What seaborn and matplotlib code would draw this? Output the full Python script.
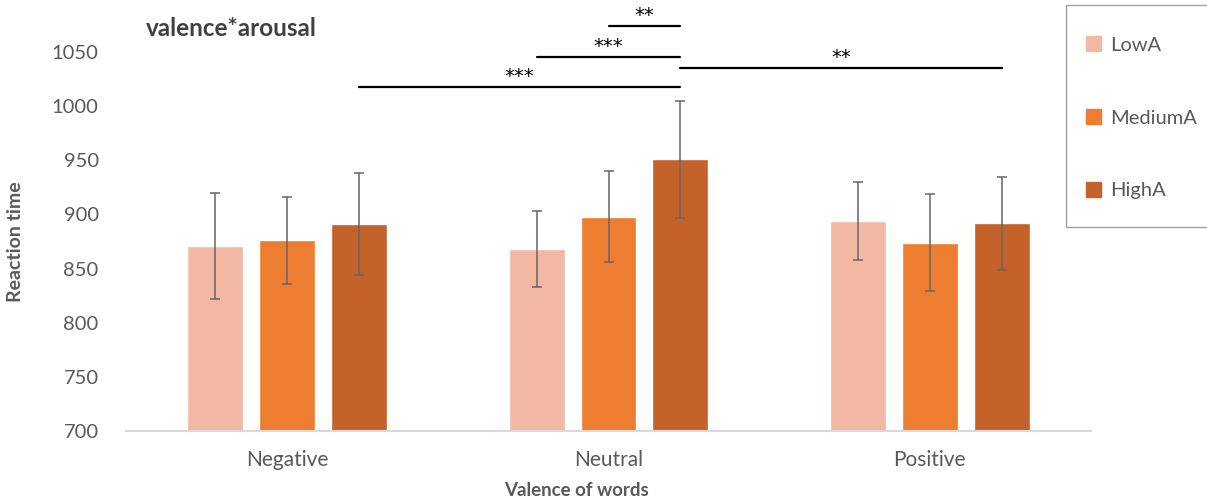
import seaborn as sns
import pandas as pd
import matplotlib.pyplot as plt

# Values
valence = ['Negative', 'Neutral', 'Positive']
arousal = ['LowA', 'MediumA', 'HighA']
low_rt = [871, 868, 894]
medium_rt = [876, 898, 874]
high_rt = [891, 951, 892]
low_err = [49, 35, 36]
medium_err = [40, 42, 45]
high_err = [47, 54, 43]

# significance brackets: (valence a, arousal a, valence b, arousal b, height, label)
sig_pairs = [
    (0, 2, 1, 2, 1018, '***'),
    (1, 0, 1, 2, 1045, '***'),
    (1, 1, 1, 2, 1074, '**'),
    (1, 2, 2, 2, 1035, '**'),
]

colors = ['#F3B8A3', '#ED7D31', '#C4622A']
grey = '#595959'

df = pd.DataFrame({
    'valence': valence * 3,
    'arousal': [a for a in arousal for _ in valence],
    'rt': low_rt + medium_rt + high_rt,
})
errs = {'LowA': low_err, 'MediumA': medium_err, 'HighA': high_err}

sns.set_theme(style='white')
plt.rcParams['font.family'] = ['Lato', 'DejaVu Sans']

fig = plt.figure(figsize=(12.07, 5), dpi=100)
ax = fig.add_axes([0.1048, 0.138, 0.7987, 0.758])

sns.barplot(data=df, x='valence', y='rt', hue='arousal', hue_order=arousal,
            palette=colors, width=0.67, gap=0.22, errorbar=None,
            saturation=1, ax=ax, legend=False)

# error bars and bar centres
centers = {}
for hi, (name, cont) in enumerate(zip(arousal, ax.containers)):
    xs = [b.get_x() + b.get_width() / 2 for b in cont]
    ys = [b.get_height() + b.get_y() for b in cont]
    ax.errorbar(xs, ys, yerr=errs[name], fmt='none', ecolor='#666666',
                elinewidth=1.1, capsize=3.6, capthick=1.1)
    for vi, x in enumerate(xs):
        centers[(vi, hi)] = x

ax.set_ylim(700, 1050)
ax.set_xlim(-0.5, 2.5)
ax.set_yticks(range(700, 1051, 50))
ax.tick_params(axis='both', length=0, labelcolor=grey)
ax.tick_params(axis='x', pad=14, labelsize=15)
ax.tick_params(axis='y', pad=20, labelsize=14.5)
for s in ['top', 'right', 'left']:
    ax.spines[s].set_visible(False)
ax.spines['bottom'].set_color('#D9D9D9')
ax.spines['bottom'].set_linewidth(1.5)

ax.set_xlabel('Valence of words', fontsize=13.5, fontweight='bold', color=grey)
ax.xaxis.set_label_coords(0.467, -0.135)
ax.set_ylabel('Reaction time', fontsize=14, fontweight='bold', color=grey, labelpad=20)

for va, ha, vb, hb, h, lab in sig_pairs:
    x1 = centers[(va, ha)]
    x2 = centers[(vb, hb)]
    ax.plot([x1, x2], [h, h], color='black', lw=1.6, clip_on=False)
    ax.text((x1 + x2) / 2, h + 1, lab, ha='center', va='bottom',
            fontsize=14, color='black', clip_on=False, family='DejaVu Sans')

fig.text(0.192, 0.944, 'valence*arousal', fontsize=17.5, fontweight='bold',
         color='#404040', ha='center', va='center')

# legend box, running off the right edge like in the original
fig.patches.append(plt.Rectangle((0.883, 0.546), 0.2, 0.444, transform=fig.transFigure,
                                 facecolor='white', edgecolor='#A0A0A0', lw=1.0))
handles = [plt.Rectangle((0, 0), 1, 1, color=c) for c in colors]
leg = fig.legend(handles, arousal, loc='upper left', bbox_to_anchor=(0.9, 0.927),
                 frameon=False, fontsize=14.5, labelspacing=2.75, handlelength=0.75,
                 handleheight=0.75, handletextpad=0.45, borderpad=0,
                 borderaxespad=0)
for t in leg.get_texts():
    t.set_color(grey)

fig.savefig('out.png', dpi=100)
